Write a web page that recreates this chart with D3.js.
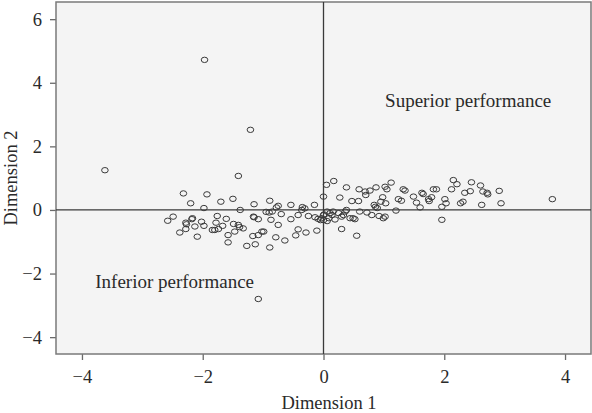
<!DOCTYPE html>
<html>
<head>
<meta charset="utf-8">
<script src="https://cdn.jsdelivr.net/npm/d3@7"></script>
<style>
  html, body { margin: 0; padding: 0; background: #fff; }
  svg { display: block; }
  text { font-family: "Liberation Serif", "DejaVu Serif", serif; fill: #2a2a2a; }
</style>
</head>
<body>
<svg id="chart" width="592" height="413"></svg>
<script>
// Object scores on the first two dimensions
const dim1 = [
  -1.97, -1.21, -3.62, -1.41, -1.08, 3.79,
  -2.32, -2.20, -2.58, -2.49, -2.28, -2.27, -2.18, -2.13, -2.28, -2.38, -2.09,
  -1.93, -1.70, -1.50, -1.98, -1.38, -1.15, -0.89, -0.75, -0.78, -0.54,
  -0.35, -0.31, -0.36, -0.15, 0.00, 0.05,
  -0.95, -0.90, -0.85, -0.70, -1.16, -1.15, -1.08, -0.87, -0.54, -0.42, -0.25,
  -0.14, -0.09, 0.01, 0.00, 0.06, -2.17, -2.02, -1.98, -1.78, -1.80, -1.84,
  -1.74, -1.67, -1.61, -1.76, -1.49, -1.41, -1.39, -1.33, -1.47, -1.58, -1.58,
  -1.27, -1.13, -1.17, -1.08, -1.02, -0.99, -0.89, -0.79, -0.75, -0.64,
  -0.46, -0.42, -0.29, -0.11,
  0.17, 0.38, 0.27, 0.47, 0.58, 0.59, 0.69, 0.70, 0.77, 0.87, 1.02, 1.05,
  1.12, 0.98, 0.95, 1.03, 0.84, 0.86, 0.89, 1.24, 1.29, 1.32, 1.35, 1.49,
  1.54, 1.63, 1.65, 1.74, 1.75, 1.79, 1.82, 1.87, 1.60, 1.96, 2.01, 2.03,
  1.96, 1.20, 1.02, 0.99, 0.92, 0.80, 0.72, 0.60, 0.49, 0.52, 0.44, 0.38,
  0.36, 0.33, 0.30, 0.25, 0.16, 0.14, 0.11, 0.06, 0.00, 0.09, -0.03, -0.05,
  0.30, 0.55, 0.19,
  2.15, 2.21, 2.12, 2.45, 2.60, 2.34, 2.43, 2.64, 2.71, 2.72, 2.91, 2.27,
  2.31, 2.62, 2.94
];
const dim2 = [
  4.72, 2.52, 1.25, 1.07, -2.80, 0.34,
  0.52, 0.21, -0.34, -0.21, -0.40, -0.45, -0.29, -0.52, -0.60, -0.71, -0.84,
  0.49, 0.26, 0.35, 0.06, 0.00, 0.18, 0.29, 0.13, 0.08, 0.16,
  0.09, 0.05, 0.00, 0.16, 0.42, 0.79,
  -0.06, -0.08, -0.05, -0.13, -0.21, -0.23, -0.29, -0.31, -0.29, -0.16, -0.19,
  -0.23, -0.28, -0.14, -0.32, -0.35, -0.26, -0.37, -0.50, -0.40, -0.63, -0.63,
  -0.60, -0.50, -0.28, -0.19, -0.44, -0.47, -0.54, -0.58, -0.68, -0.79, -1.02,
  -1.13, -1.08, -0.82, -0.79, -0.68, -0.68, -1.18, -0.86, -0.47, -0.96,
  -0.80, -0.61, -0.71, -0.65,
  0.91, 0.71, 0.39, 0.28, 0.28, 0.65, 0.58, 0.47, 0.61, 0.71, 0.73, 0.65,
  0.86, 0.40, 0.26, 0.21, 0.16, 0.10, 0.06, 0.34, 0.29, 0.65, 0.61, 0.42,
  0.23, 0.54, 0.50, 0.34, 0.28, 0.40, 0.65, 0.65, 0.08, 0.10, 0.34, 0.21,
  -0.31, -0.02, -0.21, -0.26, -0.19, -0.16, -0.08, -0.05, -0.26, -0.29, -0.26, 0.00,
  -0.05, -0.16, -0.21, -0.10, -0.05, -0.16, -0.10, -0.05, -0.16, -0.26, -0.26, -0.32,
  -0.60, -0.81, -0.30,
  0.94, 0.81, 0.65, 0.87, 0.77, 0.54, 0.59, 0.58, 0.54, 0.49, 0.60, 0.21,
  0.26, 0.16, 0.21
];

const xTicks = [-4, -2, 0, 2, 4];
const yTicks = [-4, -2, 0, 2, 4, 6];
const xTitle = "Dimension 1";
const yTitle = "Dimension 2";
const annotations = [
  { text: "Superior performance", x: 1.02, y: 3.24 },
  { text: "Inferior performance", x: -3.78, y: -2.45 }
];

const svg = d3.select("#chart");
const plot = { left: 56, top: 2, right: 591, bottom: 354 };

const x = d3.scaleLinear().domain([-4.43, 4.43]).range([plot.left, plot.right]);
const y = d3.scaleLinear().domain([-4.53, 6.54]).range([plot.bottom, plot.top]);

// Plot panel
svg.append("rect")
  .attr("x", plot.left).attr("y", plot.top)
  .attr("width", plot.right - plot.left).attr("height", plot.bottom - plot.top)
  .attr("fill", "#f4f4f4");

// Axes
const xAxis = svg.append("g")
  .attr("transform", `translate(0,${plot.bottom})`)
  .call(d3.axisBottom(x).tickValues(xTicks).tickSize(6).tickPadding(10).tickSizeOuter(0));
const yAxis = svg.append("g")
  .attr("transform", `translate(${plot.left},0)`)
  .call(d3.axisLeft(y).tickValues(yTicks).tickSize(6).tickPadding(8).tickSizeOuter(0));

[xAxis, yAxis].forEach(g => {
  g.select(".domain").remove();
  g.selectAll(".tick line").attr("stroke", "#6a6a6a").attr("stroke-width", 1.3);
  g.selectAll(".tick text")
    .attr("font-family", "Liberation Serif, DejaVu Serif, serif")
    .attr("font-size", 18.5).attr("fill", "#2a2a2a");
});

// Panel frame
svg.append("rect")
  .attr("x", plot.left).attr("y", plot.top)
  .attr("width", plot.right - plot.left).attr("height", plot.bottom - plot.top)
  .attr("fill", "none").attr("stroke", "#7a7a7a").attr("stroke-width", 1.5);

// Reference lines through the origin
svg.append("line")
  .attr("x1", x(0)).attr("x2", x(0)).attr("y1", plot.top).attr("y2", plot.bottom)
  .attr("stroke", "#3a3a3a").attr("stroke-width", 1.3);
svg.append("line")
  .attr("x1", plot.left).attr("x2", plot.right).attr("y1", y(0)).attr("y2", y(0))
  .attr("stroke", "#3a3a3a").attr("stroke-width", 1.3);

// Points
const points = dim1.map((d, i) => ({ d1: d, d2: dim2[i] }));
svg.append("g")
  .selectAll("ellipse")
  .data(points)
  .join("ellipse")
  .attr("cx", d => x(d.d1))
  .attr("cy", d => y(d.d2))
  .attr("rx", 3.3)
  .attr("ry", 2.7)
  .attr("fill", "none")
  .attr("stroke", "#3a3a3a")
  .attr("stroke-width", 1);

// Quadrant annotations
svg.append("g")
  .selectAll("text")
  .data(annotations)
  .join("text")
  .attr("x", d => x(d.x))
  .attr("y", d => y(d.y))
  .attr("font-size", 19)
  .text(d => d.text);

// Axis titles
svg.append("text")
  .attr("x", 329).attr("y", 409)
  .attr("text-anchor", "middle")
  .attr("font-size", 18.5)
  .text(xTitle);
svg.append("text")
  .attr("transform", `translate(17,${(plot.top + plot.bottom) / 2}) rotate(-90)`)
  .attr("text-anchor", "middle")
  .attr("font-size", 18.5)
  .text(yTitle);
</script>
</body>
</html>
